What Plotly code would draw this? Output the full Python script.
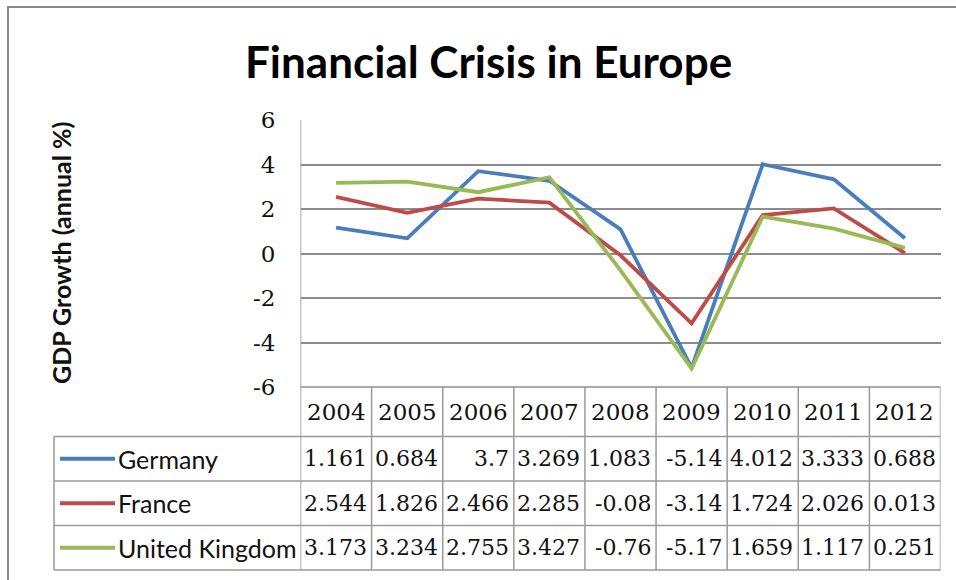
import plotly.graph_objects as go

years = ["2004", "2005", "2006", "2007", "2008", "2009", "2010", "2011", "2012"]
germany = [1.161, 0.684, 3.7, 3.269, 1.083, -5.14, 4.012, 3.333, 0.688]
france = [2.544, 1.826, 2.466, 2.285, -0.08, -3.14, 1.724, 2.026, 0.013]
uk = [3.173, 3.234, 2.755, 3.427, -0.76, -5.17, 1.659, 1.117, 0.251]
germany_txt = ["1.161", "0.684", "3.7", "3.269", "1.083", "-5.14", "4.012", "3.333", "0.688"]
france_txt = ["2.544", "1.826", "2.466", "2.285", "-0.08", "-3.14", "1.724", "2.026", "0.013"]
uk_txt = ["3.173", "3.234", "2.755", "3.427", "-0.76", "-5.17", "1.659", "1.117", "0.251"]
series_names = ["Germany", "France", "United Kingdom"]
colors = ["#4A7EBB", "#BE4B48", "#98B954"]
y_ticks = [-6, -4, -2, 0, 2, 4, 6]

W, H = 956, 580
def px(x):
    return x / W
def py(y):
    return 1 - y / H

PL, PR, PT, PB = 300.5, 940.5, 120.0, 387.0
TL = 54.0
ROWS = [387.0, 436.5, 481.0, 525.5, 570.0]

fig = go.Figure()
xs = list(range(len(years)))
for name, vals, col in zip(series_names, [germany, france, uk], colors):
    fig.add_trace(go.Scatter(x=xs, y=vals, mode="lines", name=name,
                             line=dict(color=col, width=3.8), showlegend=False))

grid_col = "#8c8c8c"
tab_col = "#9a9a9a"
shapes = []
shapes.append(dict(type="rect", xref="paper", yref="paper", x0=px(8), x1=px(1000), y0=py(7), y1=py(620),
                   line=dict(color="#8a8a8a", width=2), fillcolor="rgba(0,0,0,0)", layer="below"))
shapes.append(dict(type="line", xref="x", yref="paper", x0=-0.5, x1=-0.5, y0=py(PT), y1=py(ROWS[-1]),
                   line=dict(color=grid_col, width=1.5)))
for i in range(1, len(years) + 1):
    shapes.append(dict(type="line", xref="x", yref="paper", x0=i - 0.5, x1=i - 0.5,
                       y0=py(ROWS[0]), y1=py(ROWS[-1]), line=dict(color=tab_col, width=1.5)))
shapes.append(dict(type="line", xref="paper", yref="paper", x0=px(TL), x1=px(TL),
                   y0=py(ROWS[1]), y1=py(ROWS[-1]), line=dict(color=tab_col, width=1.5)))
shapes.append(dict(type="line", xref="x", yref="paper", x0=-0.5, x1=len(years) - 0.5,
                   y0=py(ROWS[0]), y1=py(ROWS[0]), line=dict(color=grid_col, width=1.5)))
for r in ROWS[1:]:
    shapes.append(dict(type="line", xref="paper", yref="paper", x0=px(TL), x1=px(PR),
                       y0=py(r), y1=py(r), line=dict(color=tab_col, width=1.5)))
for k, col in enumerate(colors):
    yc = (ROWS[k + 1] + ROWS[k + 2]) / 2
    shapes.append(dict(type="line", xref="paper", yref="paper", x0=px(60), x1=px(115),
                       y0=py(yc), y1=py(yc), line=dict(color=col, width=4)))

annotations = []
serif = "DejaVu Serif"
sans = "Lato"
for i, yr in enumerate(years):
    annotations.append(dict(x=i, xref="x", y=py((ROWS[0] + ROWS[1]) / 2), yref="paper", text=yr,
                            showarrow=False, xanchor="center", yanchor="middle",
                            font=dict(family=serif, size=23, color="#111")))
for k, txts in enumerate([germany_txt, france_txt, uk_txt]):
    yc = (ROWS[k + 1] + ROWS[k + 2]) / 2
    for i, t in enumerate(txts):
        annotations.append(dict(x=i + 0.5, xref="x", y=py(yc), yref="paper", text=t, xshift=-3,
                                showarrow=False, xanchor="right", yanchor="middle",
                                font=dict(family=serif, size=22, color="#111")))
    annotations.append(dict(x=px(116), xref="paper", y=py(yc), yref="paper", text=series_names[k],
                            showarrow=False, xanchor="left", yanchor="middle",
                            font=dict(family=sans, size=25, color="#111")))
annotations.append(dict(x=px(61), xref="paper", y=py(253), yref="paper", text="<b>GDP Growth (annual %)</b>",
                        textangle=-90, showarrow=False, xanchor="center", yanchor="middle",
                        font=dict(family=sans, size=25, color="#111")))
annotations.append(dict(x=px(488), xref="paper", y=py(61), yref="paper", text="<b>Financial Crisis in Europe</b>",
                        showarrow=False, xanchor="center", yanchor="middle",
                        font=dict(family=sans, size=44, color="#000")))

fig.update_layout(
    width=W, height=H, margin=dict(l=0, r=0, t=0, b=0, pad=0),
    paper_bgcolor="white", plot_bgcolor="white",
    shapes=shapes, annotations=annotations,
    xaxis=dict(domain=[px(PL), px(PR)], range=[-0.5, len(years) - 0.5], showgrid=False, automargin=False,
               showticklabels=False, zeroline=False, showline=False, fixedrange=True),
    yaxis=dict(domain=[py(PB), py(PT)], range=[-6, 6], tickvals=y_ticks, automargin=False,
               ticktext=[str(v) for v in y_ticks], showgrid=True, gridcolor=grid_col, gridwidth=1.5,
               zeroline=False, showline=False, ticks="", ticklabelstandoff=24,
               tickfont=dict(family=serif, size=23, color="#111"), fixedrange=True),
)
fig.write_html("out.html", config={"displayModeBar": False},
               post_script="document.body.style.margin='0';document.body.style.overflow='hidden';")
